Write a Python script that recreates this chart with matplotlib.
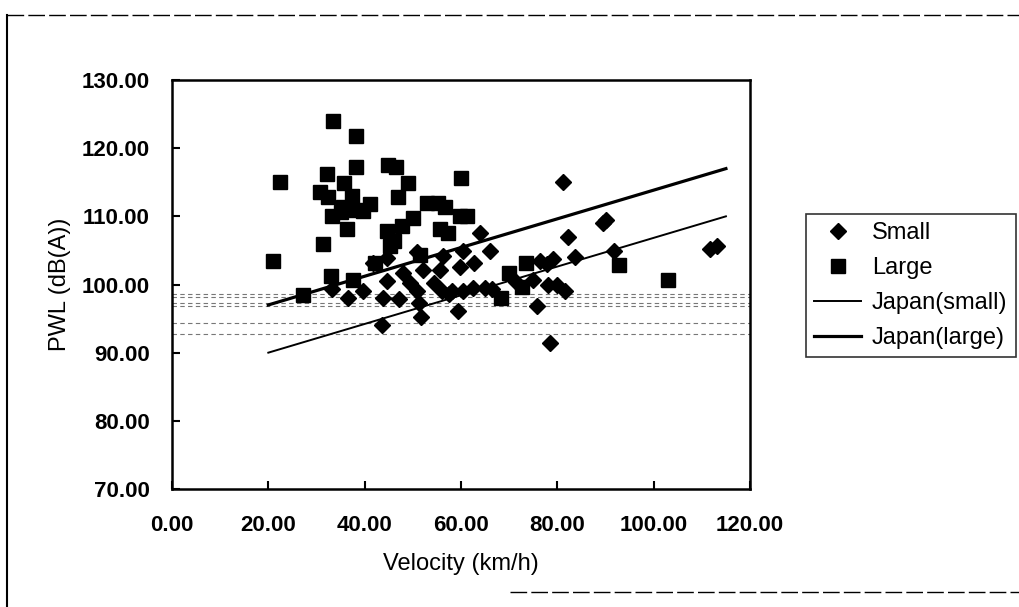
import matplotlib
matplotlib.use("Agg")
import matplotlib.pyplot as plt
from matplotlib.lines import Line2D

plt.rcParams['font.family'] = ['Liberation Sans', 'DejaVu Sans']

small_v = [33.2, 36.6, 39.6, 43.9, 44.6, 43.5, 47.2, 50.8, 51.2, 51.8,
           48.0, 49.4, 50.8, 52.2, 56.3, 55.6, 56.0, 58.1, 59.4, 59.8,
           60.5, 62.5, 62.6, 60.5, 63.9, 65.0, 66.0, 66.4, 71.4, 75.0,
           75.7, 76.4, 77.8, 78.1, 78.5, 79.1, 79.9, 81.2, 81.6, 82.3,
           83.7, 89.5, 90.2, 91.8, 111.7, 113.1, 41.8, 44.6, 54.5, 57.6]
small_pwl = [99.3, 98.0, 99.0, 98.0, 100.5, 94.1, 97.9, 99.0, 97.3, 95.3,
             101.7, 100.2, 104.7, 102.2, 104.2, 102.2, 99.0, 99.0, 96.1, 102.5,
             99.0, 99.5, 103.2, 104.9, 107.6, 99.5, 104.9, 99.3, 100.4, 100.7,
             96.8, 103.4, 103.0, 100.0, 91.4, 103.7, 100.0, 115.0, 99.0, 106.9,
             104.1, 109.0, 109.5, 104.9, 105.2, 105.6, 103.2, 103.9, 100.2, 98.6]

large_v = [20.9, 22.5, 27.3, 30.7, 31.4, 32.2, 32.4, 33.1, 33.3, 33.4,
           35.6, 35.7, 36.3, 37.3, 37.6, 38.2, 38.2, 38.3, 39.7, 41.1,
           42.1, 44.9, 46.5, 46.0, 44.6, 47.0, 47.7, 48.9, 50.1, 52.9,
           55.3, 56.7, 55.6, 57.4, 59.8, 61.2, 59.9, 68.4, 69.9, 72.7,
           73.5, 92.7, 102.9, 51.5, 35.0, 45.3]
large_pwl = [103.4, 115.0, 98.5, 113.5, 105.9, 116.2, 112.8, 101.2, 110.1, 124.0,
             111.3, 114.9, 108.1, 113.0, 100.7, 121.8, 117.3, 111.0, 110.8, 111.8,
             103.2, 117.5, 117.3, 106.4, 107.8, 112.8, 108.6, 114.9, 109.7, 112.0,
             111.9, 111.3, 108.1, 107.6, 110.0, 110.0, 115.6, 98.0, 101.7, 99.7,
             103.2, 102.9, 100.6, 104.4, 110.6, 105.7]

# Japanese reference model lines
japan_v = [20.0, 115.0]
japan_small = [90.0, 110.0]
japan_large = [97.0, 117.0]

# faint horizontal bands visible in the scan
band_levels = [98.6, 98.1, 97.3, 96.8, 94.3, 92.8]

x_ticks = [0, 20, 40, 60, 80, 100, 120]
y_ticks = [70, 80, 90, 100, 110, 120, 130]

fig = plt.figure(figsize=(10.2, 6.07), dpi=100)
ax = fig.add_axes([0.1686, 0.1944, 0.5667, 0.6738])

for lvl in band_levels:
    ax.axhline(lvl, color='#777777', lw=0.8, ls=(0, (4, 3)), zorder=1)

ax.plot(small_v, small_pwl, ls='none', marker='D', ms=8.5, color='black',
        label='Small', zorder=3)
ax.plot(large_v, large_pwl, ls='none', marker='s', ms=9.5, color='black',
        label='Large', zorder=3)
ax.plot(japan_v, japan_small, color='black', lw=1.4, label='Japan(small)', zorder=2)
ax.plot(japan_v, japan_large, color='black', lw=2.3, label='Japan(large)', zorder=2)

ax.set_xlim(0, 120)
ax.set_ylim(70, 130)
ax.set_xticks(x_ticks)
ax.set_yticks(y_ticks)
ax.set_xticklabels([f"{t:.2f}" for t in x_ticks])
ax.set_yticklabels([f"{t:.2f}" for t in y_ticks])
ax.tick_params(direction='in', length=6, width=1.5, labelsize=16, pad=16)
ax.tick_params(axis='x', pad=19)
for lab in ax.get_xticklabels() + ax.get_yticklabels():
    lab.set_fontweight('bold')
for sp in ax.spines.values():
    sp.set_linewidth(1.8)

ax.set_xlabel('Velocity (km/h)', fontsize=17, labelpad=12)
ax.set_ylabel('PWL (dB(A))', fontsize=17, labelpad=8)

leg = fig.legend(loc='upper left', bbox_to_anchor=(0.79, 0.648), fontsize=17,
                 frameon=True, fancybox=False, edgecolor='black',
                 handlelength=2.0, labelspacing=0.55, borderpad=0.35,
                 handletextpad=0.45, borderaxespad=0.0)
leg.get_frame().set_linewidth(1.2)

# outer chart frame from the scan
fig.add_artist(Line2D([0.007, 0.007], [0.0, 0.975], transform=fig.transFigure,
                      color='black', lw=1.5))
fig.add_artist(Line2D([0.007, 1.0], [0.975, 0.975], transform=fig.transFigure,
                      color='black', lw=1.0, ls=(0, (12, 3))))
fig.add_artist(Line2D([0.5, 1.0], [0.025, 0.025], transform=fig.transFigure,
                      color='black', lw=1.0, ls=(0, (12, 3))))

fig.savefig('out.png', dpi=100)
